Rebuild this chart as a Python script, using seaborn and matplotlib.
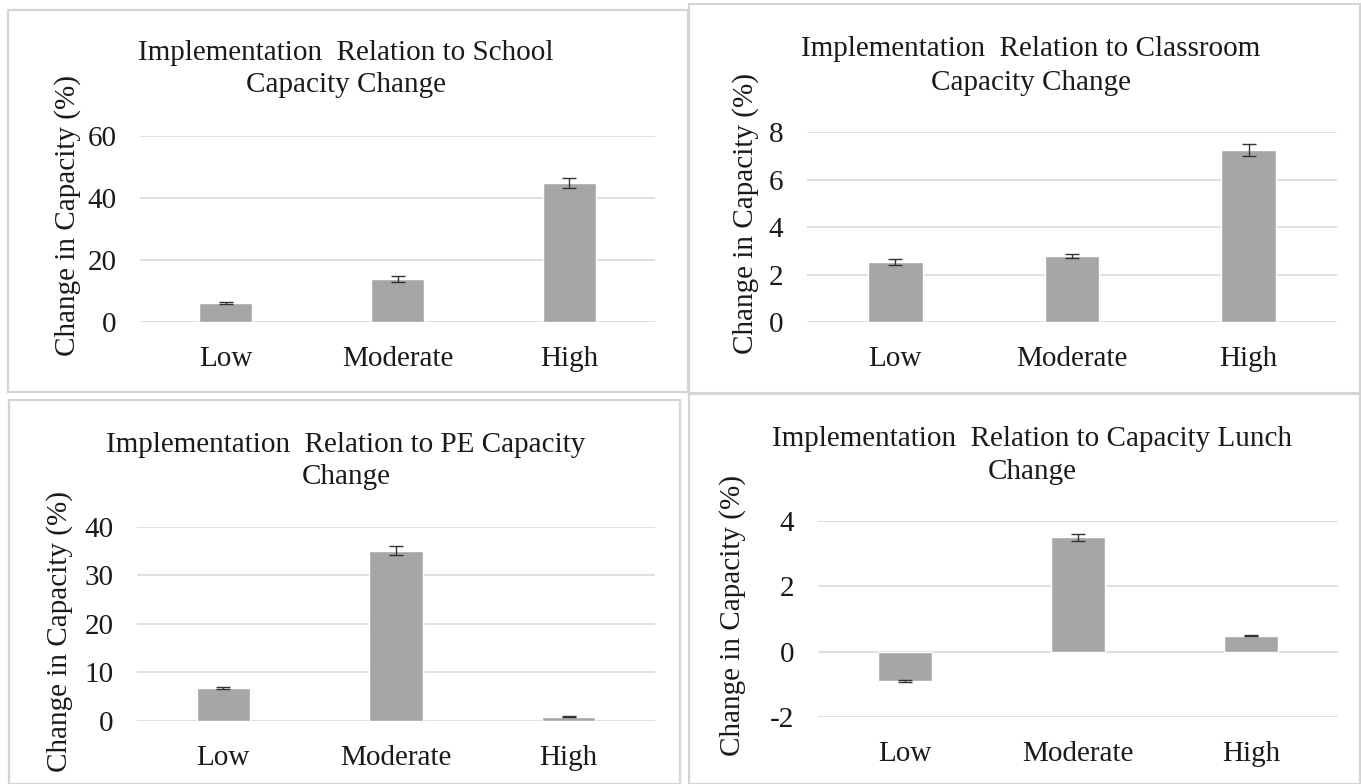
import matplotlib
matplotlib.use("Agg")
import matplotlib.pyplot as plt
from matplotlib.patches import Rectangle
import pandas as pd
import seaborn as sns

# data
levels = ["Low", "Moderate", "High"]

school_change = [6.0, 13.8, 44.8]
school_err = [0.3, 1.0, 1.6]

classroom_change = [2.54, 2.78, 7.27]
classroom_err = [0.12, 0.08, 0.25]

pe_change = [6.7, 35.1, 0.9]
pe_err = [0.2, 1.0, 0.1]

lunch_change = [-0.89, 3.5, 0.5]
lunch_err = [0.03, 0.1, 0.03]

titles = [
    "Implementation  Relation to School\nCapacity Change",
    "Implementation  Relation to Classroom\nCapacity Change",
    "Implementation  Relation to PE Capacity\nChange",
    "Implementation  Relation to Capacity Lunch\nChange",
]
ylabel = "Change in Capacity (%)"

W, H = 1361, 784
FS = 21

sns.set_style("white")
plt.rcParams["font.family"] = ["Liberation Serif", "DejaVu Serif"]

fig = plt.figure(figsize=(W / 100, H / 100), dpi=100)

def px_box(left, top, right, bottom):
    return [left / W, 1 - bottom / H, (right - left) / W, (bottom - top) / H]

# panel layout: axes box, y range, ticks, frame box, title centre, ylabel centre
panels = [
    dict(vals=school_change, err=school_err, ax=(140, 135.7, 655, 322), ylim=(0, 60), ticks=[0, 20, 40, 60],
         frame=(8, 10, 688, 392), title=(346, 69), ylab=(68, 216)),
    dict(vals=classroom_change, err=classroom_err, ax=(807, 132.3, 1337, 322), ylim=(0, 8), ticks=[0, 2, 4, 6, 8],
         frame=(689, 4, 1360, 393), title=(1031, 66), ylab=(746, 214)),
    dict(vals=pe_change, err=pe_err, ax=(137, 526.7, 655, 721), ylim=(0, 40), ticks=[0, 10, 20, 30, 40],
         frame=(9, 400, 680, 784), title=(346, 461), ylab=(60, 632)),
    dict(vals=lunch_change, err=lunch_err, ax=(818, 521, 1338, 717.3), ylim=(-2, 4), ticks=[-2, 0, 2, 4],
         frame=(689, 394, 1360, 784), title=(1032, 455), ylab=(733, 615)),
]

for i, p in enumerate(panels):
    l, t, r, b = p["frame"]
    fig.patches.append(Rectangle((l / W, 1 - b / H), (r - l) / W, (b - t) / H,
                                 transform=fig.transFigure, fill=False,
                                 edgecolor="#d4d4d4", linewidth=1.6))

    ax = fig.add_axes(px_box(*p["ax"]))
    df = pd.DataFrame({"level": levels, "change": p["vals"]})
    sns.barplot(data=df, x="level", y="change", color="#a6a6a6", saturation=1,
                width=0.31, errorbar=None, ax=ax, zorder=2)
    ax.errorbar(range(len(levels)), p["vals"], yerr=p["err"], fmt="none",
                ecolor="#333333", elinewidth=1.0, capsize=5, capthick=1.0, zorder=3)

    ax.set_xlim(-0.5, 2.5)
    ax.set_ylim(*p["ylim"])
    ax.set_yticks(p["ticks"])
    ax.set_yticklabels([str(v) for v in p["ticks"]])
    for v in p["ticks"]:
        ax.axhline(v, color="#d9d9d9", linewidth=1.2, zorder=1)
    for s in ax.spines.values():
        s.set_visible(False)
    ax.set_xlabel("")
    ax.set_ylabel("")
    ax.tick_params(axis="x", length=0, pad=17, labelsize=FS, labelcolor="#1a1a1a")
    ax.tick_params(axis="y", length=0, pad=17, labelsize=FS, labelcolor="#1a1a1a")
    ax.set_facecolor("none")

    tx, ty = p["title"]
    fig.text(tx / W, 1 - ty / H, titles[i], ha="center", va="center",
             fontsize=FS, color="#1a1a1a", linespacing=1.35)
    yx, yy = p["ylab"]
    fig.text(yx / W, 1 - yy / H, ylabel, ha="center", va="center", rotation=90,
             fontsize=FS, color="#1a1a1a")

fig.savefig("out.png", dpi=100, facecolor="white")
